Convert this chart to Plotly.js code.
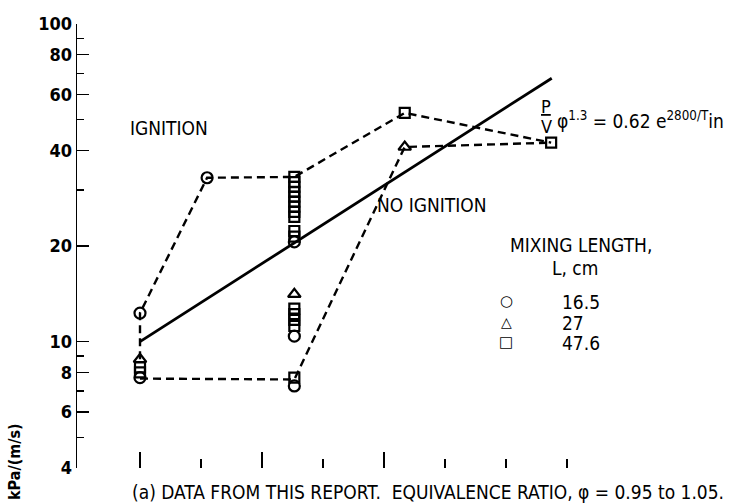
<!DOCTYPE html>
<html>
<head>
<meta charset="utf-8">
<script src="https://cdn.plot.ly/plotly-3.0.1.min.js"></script>
<style>
  body { margin: 0; background: #fff; }
  #chart { width: 740px; height: 504px; }
</style>
</head>
<body>
<div id="chart"></div>
<script>
width = 740;
height = 504;

// x is in units of the bottom tick marks (unlabelled in the original)
const tickMajorX = [0, 2, 4];
const tickMinorX = [1, 3, 5, 6, 7];
const yTickVals = [4, 6, 8, 10, 20, 40, 60, 80, 100];
const yTickText = ['4', '6', '8', '10', '20', '40', '60', '80', '100'];
const yMinorVals = [5, 7, 9, 30, 50, 70, 90];

// mixing length 16.5 cm (circles)
const circleX = [0, 0, 1.1, 2.53, 2.53, 2.53];
const circleY = [12.3, 7.7, 32.8, 20.6, 10.4, 7.25];

// mixing length 27 cm (triangles)
const triX = [0, 2.53, 4.34];
const triY = [8.8, 14.1, 41];

// mixing length 47.6 cm (squares)
const sqX = [0, 0, 2.53, 2.53, 2.53, 2.53, 2.53, 2.53, 2.53, 2.53, 2.53, 2.53, 2.53,
             2.53, 2.53, 2.53, 2.53, 2.53, 4.34, 6.74];
const sqY = [8.3, 8.0, 33.0, 31.8, 30.7, 29.6, 28.6, 27.6, 26.6, 25.6, 24.7, 22.3, 21.4,
             12.7, 12.2, 11.7, 11.2, 7.7, 52.5, 42.3];

// correlation line  p/V phi^1.3 = 0.62 e^(2800/Tin)
const fitX = [0, 6.75];
const fitY = [10, 67.5];

// dashed ignition boundaries
const upperX = [0, 0, 1.1, 2.53, 4.34, 6.74];
const upperY = [8.8, 12.3, 32.8, 33.0, 52.5, 42.3];
const lowerX = [0, 2.53, 4.34, 6.74];
const lowerY = [7.65, 7.6, 41, 42.3];

const FONT = '"Liberation Sans Narrow", "Arial Narrow", "DejaVu Sans Condensed", sans-serif';

// pixel -> paper helpers for the text labels
const L = 77, R = 740, T = 24, B = 468;
function px(x) { return (x - L) / (R - L); }
function py(y) { return (B - y) / (B - T); }

let dashStyle = { color: 'black', width: 2.4, dash: '8px,5px' };
let mk = (symbol, size) => ({ symbol: symbol, size: size, color: 'black', line: { width: 2.2, color: 'black' } });

let traces = [
  { x: upperX, y: upperY, mode: 'lines', line: dashStyle, showlegend: false, hoverinfo: 'skip' },
  { x: lowerX, y: lowerY, mode: 'lines', line: dashStyle, showlegend: false, hoverinfo: 'skip' },
  { x: fitX, y: fitY, mode: 'lines', line: { color: 'black', width: 2.8 }, showlegend: false },
  { x: circleX, y: circleY, mode: 'markers', name: '16.5', marker: mk('circle-open', 11) },
  { x: triX, y: triY, mode: 'markers', name: '27', marker: mk('triangle-up-open', 11) },
  { x: sqX, y: sqY, mode: 'markers', name: '47.6', marker: mk('square-open', 10) }
];

function label(text, x, y, size, opts) {
  return Object.assign({
    text: text, xref: 'paper', yref: 'paper', x: px(x), y: py(y),
    showarrow: false, font: { family: FONT, size: size, color: 'black' },
    xanchor: 'center', yanchor: 'middle'
  }, opts || {});
}
let sym = (t, y, s) => label(t, 506, y, s, {
  font: { family: 'DejaVu Sans', size: s, color: 'black', weight: 'bold' }
});

let annotations = [
  label('IGNITION', 169, 128, 19),
  label('NO IGNITION', 431, 205, 19),
  label('MIXING LENGTH,', 581, 245, 19),
  label('L, cm', 575, 268, 19),
  sym('○', 301, 15),
  sym('△', 322, 14),
  sym('□', 342, 15),
  label('16.5', 560, 302, 19, { xanchor: 'left' }),
  label('27', 560, 323, 19, { xanchor: 'left' }),
  label('47.6', 560, 343, 19, { xanchor: 'left' }),
  label('<u>P</u>', 546, 106, 18),
  label('V', 546, 126, 18),
  label('φ<sup>1.3</sup> = 0.62 e<sup>2800/T</sup>in', 555, 120, 19, { xanchor: 'left' }),
  label('(a) DATA FROM THIS REPORT.  EQUIVALENCE RATIO, φ = 0.95 to 1.05.', 428, 492, 19),
  label('<b>kPa/(m/s)</b>', 14, 462, 16, { textangle: -90 })
];

let layout = {
  width: width,
  height: height,
  margin: { l: L, r: width - R, t: T, b: height - B },
  paper_bgcolor: 'white',
  plot_bgcolor: 'white',
  showlegend: false,
  font: { family: FONT, color: 'black' },
  xaxis: {
    range: [(L - 140) / 61, (R - 140) / 61],
    showline: false, showgrid: false, zeroline: false, showticklabels: false,
    tickmode: 'array', tickvals: tickMajorX,
    ticks: 'inside', ticklen: 16, tickwidth: 1.6, tickcolor: 'black',
    minor: { tickmode: 'array', tickvals: tickMinorX, ticks: 'inside', ticklen: 9, tickwidth: 1.4, tickcolor: 'black' }
  },
  yaxis: {
    type: 'log',
    range: [Math.log10(4), 2],
    showline: true, linecolor: 'black', linewidth: 1.4,
    showgrid: false, zeroline: false,
    tickmode: 'array', tickvals: yTickVals, ticktext: yTickText,
    ticks: 'inside', ticklen: 12, tickwidth: 1.4, tickcolor: 'black',
    tickfont: { family: FONT, size: 18, color: 'black', weight: 'bold' },
    minor: { tickmode: 'array', tickvals: yMinorVals, ticks: 'inside', ticklen: 7, tickwidth: 1.4, tickcolor: 'black' }
  },
  annotations: annotations
};

Plotly.newPlot('chart', traces, layout, { staticPlot: true });
</script>
</body>
</html>
